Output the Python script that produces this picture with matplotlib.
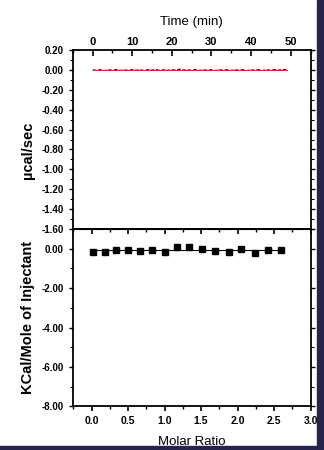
import matplotlib
matplotlib.use("Agg")
import matplotlib.pyplot as plt
from matplotlib.patches import Rectangle
from matplotlib.ticker import MultipleLocator, FormatStrFormatter

plt.rcParams['font.family'] = ['Liberation Sans', 'DejaVu Sans']

# Raw thermogram: time (min) and differential power (ucal/sec)
time_min = [0, 1, 2, 3, 4, 5, 6, 7, 8, 9, 10, 11, 12, 13, 14, 15, 16, 17, 18, 19,
            20, 21, 22, 23, 24, 25, 26, 27, 28, 29, 30, 31, 32, 33, 34, 35, 36, 37,
            38, 39, 40, 41, 42, 43, 44, 45, 46, 47, 48, 49]
power = [0.000, -0.004, 0.002, -0.006, 0.001, -0.003, 0.003, -0.005, 0.000, -0.004,
         0.002, -0.003, 0.001, -0.006, 0.002, -0.002, 0.003, -0.005, 0.001, -0.004,
         0.002, -0.003, 0.008, -0.002, 0.001, -0.004, 0.003, -0.005, 0.000, -0.003,
         0.002, -0.006, 0.001, -0.003, 0.002, -0.005, 0.001, -0.004, 0.002, -0.006,
         0.000, -0.003, 0.002, -0.005, 0.001, -0.004, 0.003, -0.002, 0.004, -0.001]
baseline_t = [0, 49]
baseline_p = [0.0, 0.0]

# Integrated heats per injection
molar_ratio = [0.02, 0.18, 0.34, 0.50, 0.66, 0.83, 1.00, 1.17, 1.34, 1.51, 1.69,
               1.88, 2.05, 2.24, 2.42, 2.60]
heat = [-0.14, -0.14, -0.05, -0.04, -0.10, -0.05, -0.14, 0.10, 0.08, -0.02, -0.10,
        -0.17, 0.00, -0.19, -0.05, -0.04]
fit_x = [0.02, 2.60]
fit_y = [-0.05, -0.05]

fig = plt.figure(figsize=(3.24, 4.5), dpi=100)
fig.patch.set_facecolor('white')

L, W = 0.2244, 0.7340
ax1 = fig.add_axes([L, 0.491, W, 0.398])
ax2 = fig.add_axes([L, 0.0967, W, 0.3943])

# ---- upper panel: thermogram ----
ax1.plot(time_min, power, color='black', lw=0.7, ls=(0, (4, 1.5)))
ax1.plot(baseline_t, baseline_p, color='#e8201c', lw=0.7)
ax1.set_xlim(-5, 55)
ax1.set_ylim(-1.6, 0.2)
ax1.xaxis.tick_top()
ax1.xaxis.set_label_position('top')
ax1.xaxis.set_major_locator(MultipleLocator(10))
ax1.xaxis.set_minor_locator(MultipleLocator(5))
ax1.yaxis.set_major_locator(MultipleLocator(0.2))
ax1.yaxis.set_minor_locator(MultipleLocator(0.1))
ax1.yaxis.set_major_formatter(FormatStrFormatter('%.2f'))
ax1.tick_params(axis='x', which='both', direction='in', top=True, bottom=False,
                labeltop=True, labelbottom=False, labelsize=8, pad=2)
ax1.tick_params(axis='x', which='major', length=4, width=1.2)
ax1.tick_params(axis='x', which='minor', length=2.5, width=1)
ax1.tick_params(axis='y', which='both', direction='out', right=True, labelsize=7, pad=3.5)
ax1.tick_params(axis='y', which='major', length=3, width=1)
ax1.tick_params(axis='y', which='minor', length=2, width=0.8)
for lab in ax1.get_xticklabels() + ax1.get_yticklabels():
    lab.set_fontweight('bold')
ax1.set_xlabel('Time (min)', fontsize=9.5, labelpad=9)
ax1.set_ylabel('\u00b5cal/sec', fontsize=10.5, fontweight='bold')

# ---- lower panel: binding isotherm ----
ax2.plot(fit_x, fit_y, color='black', lw=0.8)
ax2.plot(molar_ratio, heat, ls='none', marker='s', ms=4.8, color='black')
ax2.set_xlim(-0.26, 3.0)
ax2.set_ylim(-8, 1)
ax2.xaxis.set_major_locator(MultipleLocator(0.5))
ax2.xaxis.set_minor_locator(MultipleLocator(0.25))
ax2.xaxis.set_major_formatter(FormatStrFormatter('%.1f'))
ax2.yaxis.set_major_locator(MultipleLocator(2))
ax2.yaxis.set_minor_locator(MultipleLocator(1))
ax2.yaxis.set_major_formatter(FormatStrFormatter('%.2f'))
ax2.tick_params(axis='x', which='both', direction='out', top=False, labelsize=7.5, pad=3)
ax2.tick_params(axis='x', which='major', length=3.5, width=1.2)
ax2.tick_params(axis='x', which='minor', length=2, width=1)
ax2.tick_params(axis='y', which='both', direction='out', right=True, labelsize=7, pad=3.5)
ax2.tick_params(axis='y', which='major', length=3, width=1)
ax2.tick_params(axis='y', which='minor', length=2, width=0.8)
# inward ticks along the shared border
sec = ax2.secondary_xaxis('top')
sec.xaxis.set_major_locator(MultipleLocator(0.5))
sec.xaxis.set_minor_locator(MultipleLocator(0.25))
sec.tick_params(which='both', direction='in', labeltop=False)
sec.tick_params(which='major', length=3.5, width=1.2)
sec.tick_params(which='minor', length=2, width=1)
for lab in ax2.get_xticklabels() + ax2.get_yticklabels():
    lab.set_fontweight('bold')
ax2.set_xlabel('Molar Ratio', fontsize=9.5, labelpad=7.5)
ax2.set_ylabel('KCal/Mole of Injectant', fontsize=10.5, fontweight='bold')

for ax in (ax1, ax2):
    for sp in ax.spines.values():
        sp.set_linewidth(1.3)
ax1.yaxis.set_label_coords(-0.16, 0.44)
ax2.yaxis.set_label_coords(-0.16, 0.5)

# dark frame along the right and bottom edges
fig.patches.append(Rectangle((0.977, 0), 0.023, 1, transform=fig.transFigure,
                             color='#25244f', zorder=10))
fig.patches.append(Rectangle((0, 0), 1, 0.009, transform=fig.transFigure,
                             color='#25244f', zorder=10))

fig.savefig('out.png', dpi=100)
